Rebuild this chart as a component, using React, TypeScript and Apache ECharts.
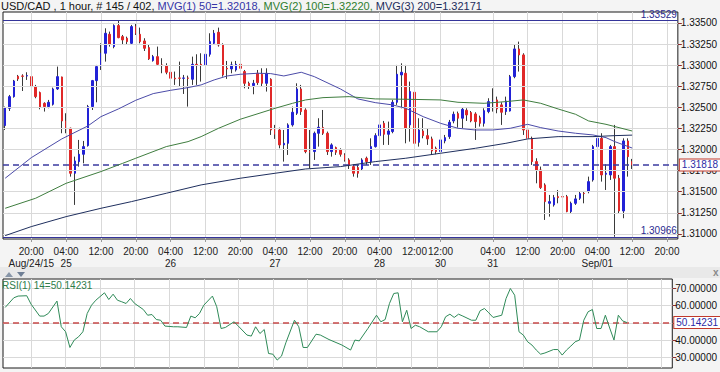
import React, { useEffect, useRef } from "react";
import * as echarts from "echarts";

// ---- Candles (USD/CAD, 1 hour) ----
const opens = [
  1.32284, 1.32489, 1.32627, 1.32868, 1.32872, 1.32872, 1.32864, 1.32746, 1.32675, 1.32548,
  1.32509, 1.32536, 1.32718, 1.3286, 1.32339, 1.32252, 1.31719, 1.31857, 1.31944, 1.32047,
  1.32509, 1.32817, 1.32983, 1.33141, 1.33366, 1.3322, 1.33469, 1.33338, 1.33319, 1.33259,
  1.33457, 1.33366, 1.33287, 1.33208, 1.33054, 1.33101, 1.33003, 1.32991, 1.32916, 1.32845,
  1.32848, 1.32845, 1.32848, 1.32833, 1.3301, 1.3301, 1.33003, 1.33129, 1.33259, 1.3339,
  1.3324, 1.32963, 1.32955, 1.32943, 1.3301, 1.32924, 1.32785, 1.32758, 1.32904, 1.32892,
  1.32785, 1.32833, 1.32252, 1.32232, 1.32055, 1.32074, 1.32292, 1.3243, 1.32718, 1.32469,
  1.31976, 1.31976, 1.32193, 1.3226, 1.32193, 1.31976, 1.32023, 1.31995, 1.31936, 1.31877,
  1.31798, 1.31786, 1.3177, 1.31897, 1.31857, 1.32035, 1.32165, 1.32311, 1.32181, 1.32213,
  1.3256, 1.32884, 1.32904, 1.32292, 1.32679, 1.32086, 1.3222, 1.32165, 1.32126, 1.32015,
  1.31976, 1.32102, 1.32153, 1.32339, 1.32426, 1.32371, 1.32465, 1.32438, 1.32422, 1.32378,
  1.32311, 1.3245, 1.3256, 1.32588, 1.32529, 1.3245, 1.32457, 1.32864, 1.33192, 1.33121,
  1.32232, 1.32133, 1.31857, 1.31758, 1.31581, 1.31363, 1.31344, 1.31442, 1.31442, 1.31442,
  1.31265, 1.31363, 1.31423, 1.31482, 1.31502, 1.3164, 1.32035, 1.32133, 1.31707, 1.31699,
  1.32035, 1.3166, 1.31272, 1.32102, 1.31857,
];
const closes = [
  1.32497, 1.32627, 1.32813, 1.32837, 1.32868, 1.32876, 1.32746, 1.32627, 1.32505, 1.32509,
  1.3256, 1.32718, 1.32864, 1.32339, 1.32244, 1.31719, 1.31865, 1.31944, 1.32035, 1.32509,
  1.32817, 1.32983, 1.33141, 1.33378, 1.33247, 1.33469, 1.33326, 1.33299, 1.33279, 1.33457,
  1.33378, 1.33279, 1.332, 1.33074, 1.33101, 1.3301, 1.32995, 1.32916, 1.32845, 1.32837,
  1.32845, 1.32848, 1.32845, 1.3301, 1.32995, 1.32995, 1.33129, 1.33279, 1.33378, 1.3324,
  1.32884, 1.32955, 1.33003, 1.3301, 1.32963, 1.32785, 1.32746, 1.32785, 1.32793, 1.32785,
  1.32904, 1.32232, 1.32181, 1.32055, 1.32074, 1.32292, 1.32442, 1.32718, 1.3245, 1.31976,
  1.31968, 1.32193, 1.32264, 1.32193, 1.31976, 1.32055, 1.31968, 1.31944, 1.31877, 1.3181,
  1.31719, 1.31719, 1.31877, 1.31857, 1.32035, 1.32165, 1.32292, 1.32181, 1.3222, 1.3256,
  1.32892, 1.32916, 1.32252, 1.32687, 1.32074, 1.32232, 1.32165, 1.32126, 1.31983, 1.31976,
  1.32114, 1.32141, 1.32323, 1.32418, 1.32371, 1.32477, 1.3241, 1.32339, 1.32331, 1.32311,
  1.32461, 1.32568, 1.32576, 1.32481, 1.32442, 1.32576, 1.32864, 1.33192, 1.33121, 1.32232,
  1.32133, 1.31857, 1.31758, 1.31549, 1.31383, 1.31383, 1.3143, 1.3143, 1.31438, 1.31265,
  1.31363, 1.31415, 1.31478, 1.31478, 1.3162, 1.32035, 1.32133, 1.31699, 1.31719, 1.32035,
  1.3166, 1.31272, 1.32102, 1.31916, 1.31818,
];
const lows = [
  1.32232, 1.32457, 1.32615, 1.32813, 1.32694, 1.32825, 1.32726, 1.32608, 1.32477, 1.3245,
  1.32489, 1.32521, 1.32706, 1.32193, 1.32193, 1.31679, 1.31344, 1.31798, 1.31837, 1.32035,
  1.32469, 1.3256, 1.32943, 1.33042, 1.3322, 1.332, 1.33319, 1.3324, 1.3324, 1.3324,
  1.33358, 1.33259, 1.33168, 1.33062, 1.33042, 1.33003, 1.32904, 1.32892, 1.32726, 1.32766,
  1.32746, 1.32659, 1.32509, 1.32766, 1.32766, 1.32805, 1.32963, 1.33101, 1.3324, 1.3322,
  1.32864, 1.32837, 1.32904, 1.32924, 1.32904, 1.32726, 1.32718, 1.32655, 1.32766, 1.32746,
  1.32687, 1.32173, 1.32126, 1.32015, 1.31857, 1.31936, 1.32272, 1.3241, 1.3241, 1.31956,
  1.31778, 1.31877, 1.32035, 1.32173, 1.31936, 1.31916, 1.31936, 1.31916, 1.31857, 1.3177,
  1.31679, 1.31667, 1.31746, 1.31818, 1.31818, 1.32023, 1.32133, 1.32055, 1.32055, 1.32193,
  1.32529, 1.32489, 1.32074, 1.32094, 1.32055, 1.32035, 1.32133, 1.32055, 1.31936, 1.31944,
  1.31956, 1.32074, 1.32126, 1.32311, 1.3226, 1.32252, 1.32339, 1.32323, 1.32114, 1.32272,
  1.32272, 1.3243, 1.3245, 1.3243, 1.32292, 1.3241, 1.3245, 1.32845, 1.32924, 1.32173,
  1.31956, 1.31818, 1.316, 1.31533, 1.31166, 1.31205, 1.31324, 1.31363, 1.31383, 1.31257,
  1.31245, 1.31344, 1.31403, 1.31363, 1.31482, 1.3162, 1.32015, 1.3162, 1.31521, 1.3164,
  1.30966, 1.31245, 1.31186, 1.31679, 1.3177,
];
const highs = [
  1.32509, 1.32647, 1.32825, 1.32884, 1.32892, 1.32916, 1.32916, 1.32766, 1.32687, 1.3256,
  1.32588, 1.32734, 1.32983, 1.32864, 1.3243, 1.3226, 1.31916, 1.32114, 1.32102, 1.32529,
  1.32825, 1.33003, 1.33259, 1.33437, 1.33398, 1.33484, 1.33529, 1.33358, 1.33338, 1.33477,
  1.33496, 1.33445, 1.33319, 1.3324, 1.33121, 1.3322, 1.33082, 1.33022, 1.32963, 1.32924,
  1.33042, 1.32884, 1.32876, 1.33101, 1.33129, 1.33141, 1.33161, 1.33378, 1.33417, 1.33445,
  1.33259, 1.3305, 1.33042, 1.3305, 1.33042, 1.32943, 1.32805, 1.32825, 1.32943, 1.32963,
  1.32963, 1.32845, 1.32292, 1.3226, 1.32232, 1.32311, 1.32509, 1.32785, 1.32766, 1.32489,
  1.32232, 1.32213, 1.32371, 1.32469, 1.32213, 1.32074, 1.32035, 1.32015, 1.31956, 1.31897,
  1.31818, 1.31818, 1.31897, 1.31916, 1.32133, 1.32193, 1.32371, 1.32339, 1.32331, 1.32588,
  1.33003, 1.33022, 1.33003, 1.32805, 1.32746, 1.32371, 1.32371, 1.32252, 1.32153, 1.32035,
  1.32126, 1.32173, 1.32351, 1.3245, 1.3245, 1.32497, 1.32489, 1.32457, 1.32442, 1.32402,
  1.32489, 1.32608, 1.32726, 1.32627, 1.3256, 1.32627, 1.32884, 1.3324, 1.33279, 1.33141,
  1.32292, 1.32153, 1.31897, 1.31798, 1.316, 1.31462, 1.31462, 1.31521, 1.31533, 1.31462,
  1.31383, 1.31462, 1.31502, 1.31509, 1.31679, 1.32055, 1.32331, 1.32193, 1.31825, 1.32055,
  1.32292, 1.31699, 1.32133, 1.32133, 1.31889,
];

// Moving averages: [candle index, value]
const ma50 = [
  [0, 1.3166], [6, 1.31904], [13, 1.32126], [19, 1.3228], [22, 1.3239], [26, 1.32481],
  [30, 1.32584], [34, 1.32663], [38, 1.32702], [42, 1.32734], [45, 1.32766], [48, 1.32825],
  [51, 1.32872], [54, 1.32892], [58, 1.32904], [61, 1.329], [64, 1.32872], [68, 1.32916],
  [71, 1.32864], [77, 1.32718], [81, 1.326], [85, 1.32556], [89, 1.32529], [92, 1.32489],
  [96, 1.3239], [100, 1.32311], [104, 1.32252], [108, 1.32232], [112, 1.32232], [116, 1.32252],
  [120, 1.32299], [123, 1.3226], [127, 1.3222], [131, 1.32193], [135, 1.32173], [138, 1.32141],
  [140, 1.32094], [144, 1.32018],
];
const ma100 = [
  [0, 1.31304], [7, 1.31423], [14, 1.316], [22, 1.31739], [27, 1.31837], [30, 1.31897],
  [37, 1.32035], [42, 1.32094], [45, 1.32153], [49, 1.32252], [54, 1.32359], [62, 1.32489],
  [66, 1.32548], [69, 1.32588], [73, 1.32615], [79, 1.32627], [85, 1.326], [92, 1.32596],
  [100, 1.32588], [104, 1.3256], [110, 1.32548], [115, 1.32568], [119, 1.32588], [123, 1.32548],
  [127, 1.32481], [131, 1.32418], [134, 1.32339], [138, 1.32299], [144, 1.3222],
];
const ma200 = [
  [0, 1.3098], [6, 1.31087], [14, 1.31205], [22, 1.31304], [29, 1.31383], [37, 1.31482],
  [45, 1.31581], [54, 1.3166], [62, 1.31719], [69, 1.3177], [77, 1.31798], [85, 1.31857],
  [92, 1.31897], [100, 1.31956], [108, 1.32015], [115, 1.32074], [120, 1.32126], [127, 1.32153],
  [135, 1.32153], [140, 1.32165], [144, 1.32171],
];

// RSI(14): [candle index, value]
const rsi = [
  [0, 58.9], [2, 64.5], [3, 65.5], [5, 65.7], [6, 60.8], [8, 53.9], [9, 53.9], [10, 55.4],
  [12, 62.6], [13, 47.7], [14, 44.8], [15, 35.7], [16, 40.0], [17, 41.9], [18, 44.8], [19, 55.4],
  [20, 60.2], [21, 63.1], [23, 67.4], [24, 63.5], [25, 66.6], [26, 63.1], [27, 62.2], [28, 61.2],
  [29, 64.1], [30, 61.2], [32, 57.7], [33, 54.4], [34, 54.8], [35, 51.9], [36, 51.5], [37, 48.1],
  [39, 47.7], [40, 47.7], [42, 47.3], [43, 53.9], [44, 52.9], [45, 55.4], [46, 60.2], [48, 65.5],
  [49, 59.3], [50, 46.7], [51, 47.3], [53, 50.6], [54, 48.1], [56, 42.9], [57, 42.3], [58, 47.7],
  [59, 43.8], [60, 46.1], [61, 32.2], [62, 31.8], [63, 28.4], [64, 30.7], [65, 38.4], [67, 51.5],
  [68, 47.7], [69, 35.7], [70, 35.7], [72, 43.4], [73, 42.9], [75, 40.3], [78, 37.1], [80, 34.2],
  [81, 40.0], [82, 39.5], [84, 46.7], [86, 54.4], [87, 50.6], [88, 51.9], [89, 61.2], [90, 67.0],
  [91, 67.4], [92, 50.6], [93, 57.3], [94, 46.7], [95, 48.6], [96, 47.7], [98, 44.8], [100, 44.8],
  [101, 47.7], [102, 53.5], [103, 55.0], [104, 53.1], [105, 55.0], [106, 53.9], [108, 51.5],
  [109, 51.5], [110, 57.0], [111, 58.3], [112, 55.8], [113, 53.1], [115, 54.4], [116, 64.1],
  [117, 69.9], [118, 66.0], [119, 44.8], [120, 42.9], [121, 39.0], [122, 37.1], [123, 34.2],
  [124, 31.8], [125, 32.5], [127, 34.5], [128, 34.5], [129, 31.3], [130, 34.2], [131, 36.5],
  [132, 39.0], [133, 40.0], [134, 51.5], [135, 56.4], [136, 57.7], [137, 46.7], [138, 46.7],
  [139, 54.4], [140, 47.0], [141, 40.0], [142, 54.4], [143, 51.1], [144, 50.14231],
];

// X axis ticks (slot index, time, date)
const SLOT_COUNT = 155;
const tickIdx = [6, 14, 22, 30, 38, 46, 54, 62, 70, 78, 86, 94, 100, 112, 120, 128, 136, 144, 152];
const tickTime = ["20:00", "04:00", "12:00", "20:00", "04:00", "12:00", "20:00", "04:00", "12:00", "20:00",
  "04:00", "12:00", "12:00", "04:00", "12:00", "20:00", "04:00", "12:00", "20:00"];
const tickDate = ["Aug/24/15", "25", "", "", "26", "", "", "27", "", "", "28", "", "30", "31", "", "", "Sep/01", "", ""];

// Y axis ticks
const priceTicks = [1.31, 1.3125, 1.315, 1.3175, 1.32, 1.3225, 1.325, 1.3275, 1.33, 1.3325, 1.335];
const rsiTicks = [30, 40, 50, 60, 70];

const lastPrice = 1.31818;
const periodHigh = 1.33529;
const periodLow = 1.30966;
const rsiLast = 50.14231;

const NARROW = "'Liberation Sans Narrow', 'Arial Narrow', 'Liberation Sans', Arial, sans-serif";
const SANS = "'Liberation Sans', Arial, sans-serif";
const GRID_COLOR = "#d9d9d9";

export default function App() {
  const ref = useRef<HTMLDivElement>(null);
  useEffect(() => {
    if (!ref.current) return;
    const chart = echarts.init(ref.current, undefined, { renderer: "svg" });
    const categories = Array.from({ length: SLOT_COUNT }, (_, i) => String(i));
    const tickSet = new Set(tickIdx);
    const isTick = (i: number) => tickSet.has(i);
    const wickData = opens.map((o, i) => [o, closes[i], lows[i], highs[i]]);
    const bodyData = opens.map((o, i) => [o, closes[i], Math.min(o, closes[i]), Math.max(o, closes[i])]);
    const fmt5 = (v: number) => v.toFixed(5);
    const last = (a: number[][]) => a[a.length - 1][1].toFixed(5);

    const gridLines = (xi: number, yi: number, yTicks: number[]) => ({
      type: "line",
      xAxisIndex: xi,
      yAxisIndex: yi,
      data: [],
      z: 1,
      silent: true,
      markLine: {
        silent: true,
        precision: 6,
        symbol: ["none", "none"],
        label: { show: false },
        lineStyle: { color: GRID_COLOR, type: "solid", width: 1 },
        data: [
          ...tickIdx.map((i) => ({ xAxis: i })),
          ...yTicks.map((v) => ({ yAxis: v })),
        ],
      },
    });

    const boxLabel = (text: string) => ({
      show: true,
      position: "end",
      formatter: text,
      color: "#2b2ba6",
      fontSize: 10,
      fontFamily: SANS,
      backgroundColor: "#ffffff",
      borderColor: "#c0392b",
      borderWidth: 1,
      padding: [1, 2, 0, 2],
      distance: 2,
    });

    const option: any = {
      animation: false,
      backgroundColor: "#f4f4f4",
      textStyle: { fontFamily: SANS },
      grid: [
        { left: 3, right: 42, top: 12, height: 227, show: true, backgroundColor: "#ffffff", borderColor: "#1a1a1a", borderWidth: 1, containLabel: false },
        { left: 3, right: 42, top: 279, height: 89, show: true, backgroundColor: "#ffffff", borderColor: "#1a1a1a", borderWidth: 1, containLabel: false },
      ],
      xAxis: [
        {
          type: "category",
          gridIndex: 0,
          data: categories,
          boundaryGap: true,
          axisLine: { show: false },
          axisTick: { show: true, alignWithLabel: true, interval: (i: number) => isTick(i), length: 3, lineStyle: { color: "#999" } },
          axisLabel: {
            interval: 0,
            hideOverlap: false,
            formatter: (_v: string, i: number) => {
              const k = tickIdx.indexOf(i);
              if (k < 0) return "";
              return tickDate[k] ? tickTime[k] + "\n" + tickDate[k] : tickTime[k];
            },
            fontSize: 10,
            fontFamily: NARROW,
            color: "#222",
            lineHeight: 12,
            margin: 6,
          },
          splitLine: { show: false },
        },
        {
          type: "category",
          gridIndex: 1,
          data: categories,
          boundaryGap: true,
          axisLine: { show: false },
          axisTick: { show: false },
          axisLabel: { show: false },
          splitLine: { show: false },
        },
      ],
      yAxis: [
        {
          type: "value",
          gridIndex: 0,
          position: "right",
          min: 1.3094,
          max: 1.3363,
          axisLine: { show: false },
          axisTick: { show: true, length: 4, customValues: priceTicks, lineStyle: { color: "#8a2c2c" } },
          axisLabel: { fontSize: 10, color: "#111", margin: 3, customValues: priceTicks, formatter: fmt5 },
          splitLine: { show: false },
        },
        {
          type: "value",
          gridIndex: 1,
          position: "right",
          min: 23.8,
          max: 75.4,
          axisLine: { show: false },
          axisTick: { show: true, length: 4, customValues: rsiTicks, lineStyle: { color: "#8a2c2c" } },
          axisLabel: {
            fontSize: 10, color: "#111", margin: 3, customValues: rsiTicks,
            formatter: (v: number) => (Math.abs(v - 50) < 0.01 ? "" : fmt5(v)),
          },
          splitLine: { show: false },
        },
      ],
      series: [
        gridLines(0, 0, priceTicks),
        gridLines(1, 1, rsiTicks),
        {
          name: "wicks",
          type: "candlestick",
          xAxisIndex: 0,
          yAxisIndex: 0,
          data: wickData,
          barWidth: 1,
          z: 3,
          itemStyle: { color: "#3a3a3a", color0: "#3a3a3a", borderColor: "#3a3a3a", borderColor0: "#3a3a3a", borderColorDoji: "#3a3a3a", borderWidth: 1 },
        },
        {
          name: "bodies",
          type: "candlestick",
          xAxisIndex: 0,
          yAxisIndex: 0,
          data: bodyData,
          barWidth: 2,
          z: 4,
          itemStyle: { color: "#2222d6", color0: "#e02828", borderColor: "#2222d6", borderColor0: "#e02828", borderColorDoji: "#444", borderWidth: 1 },
        },
        {
          name: "levels",
          type: "line",
          xAxisIndex: 0,
          yAxisIndex: 0,
          data: [],
          z: 6,
          markLine: {
            silent: true,
            precision: 6,
            symbol: ["none", "none"],
            data: [
              {
                yAxis: lastPrice,
                lineStyle: { color: "#3b3ba0", type: [6, 4], width: 1.5 },
                label: boxLabel(fmt5(lastPrice)),
              },
              {
                yAxis: periodHigh,
                lineStyle: { color: "#34349a", type: "solid", width: 1.2 },
                label: { show: true, position: "insideEndTop", formatter: fmt5(periodHigh), color: "#2a2a90", fontSize: 10, distance: 1 },
              },
              {
                yAxis: periodLow,
                lineStyle: { color: "#34349a", type: "solid", width: 1.2 },
                label: { show: true, position: "insideEndTop", formatter: fmt5(periodLow), color: "#2a2a90", fontSize: 10, distance: 1 },
              },
            ],
          },
        },
        {
          name: "MVG(1) 50",
          type: "line",
          xAxisIndex: 0,
          yAxisIndex: 0,
          data: ma50,
          showSymbol: false,
          z: 5,
          lineStyle: { color: "#4b4ba8", width: 1 },
        },
        {
          name: "MVG(2) 100",
          type: "line",
          xAxisIndex: 0,
          yAxisIndex: 0,
          data: ma100,
          showSymbol: false,
          z: 5,
          lineStyle: { color: "#3f7d3f", width: 1 },
        },
        {
          name: "MVG(3) 200",
          type: "line",
          xAxisIndex: 0,
          yAxisIndex: 0,
          data: ma200,
          showSymbol: false,
          z: 5,
          lineStyle: { color: "#1f2f5e", width: 1 },
        },
        {
          name: "RSI",
          type: "line",
          xAxisIndex: 1,
          yAxisIndex: 1,
          data: rsi,
          showSymbol: false,
          z: 5,
          lineStyle: { color: "#2f8a58", width: 1 },
          markLine: {
            silent: true,
            precision: 6,
            symbol: ["none", "none"],
            data: [
              {
                yAxis: rsiLast,
                lineStyle: { color: "#c84a4a", type: [6, 4], width: 1.5 },
                label: boxLabel(fmt5(rsiLast)),
              },
            ],
          },
        },
      ],
      graphic: [
        {
          type: "text",
          left: 1,
          top: 0,
          z: 10,
          style: {
            text:
              "{a|USD/CAD , 1 hour, # " + opens.length + " / 402, }" +
              "{b|MVG(1) 50=" + last(ma50) + ", }" +
              "{c|MVG(2) 100=" + last(ma100) + ", }" +
              "{d|MVG(3) 200=" + last(ma200) + "}",
            rich: {
              a: { fill: "#111", fontSize: 11, fontFamily: NARROW },
              b: { fill: "#3434a8", fontSize: 11, fontFamily: NARROW },
              c: { fill: "#2f7d2f", fontSize: 11, fontFamily: NARROW },
              d: { fill: "#1c2c5c", fontSize: 11, fontFamily: NARROW },
            },
          },
        },
        { type: "rect", left: 0, top: 267, z: 0, shape: { width: 720, height: 11 }, style: { fill: "#e9e9e9" } },
        { type: "polygon", z: 10, shape: { points: [[5, 277], [9, 272], [13, 277]] }, style: { fill: "#8896a8" } },
        { type: "polygon", z: 10, shape: { points: [[17, 272], [25, 272], [21, 277]] }, style: { fill: "#6f7f95" } },
        { type: "text", left: 713, top: 267, z: 10, style: { text: "x", fill: "#8a8a8a", font: "bold 10px " + SANS } },
        {
          type: "text",
          left: 2,
          top: 280,
          z: 10,
          style: { text: "RSI(1) 14=" + fmt5(rsiLast), fill: "#2e7d4a", font: "10px " + NARROW },
        },
      ],
    };
    chart.setOption(option);
    return () => chart.dispose();
  }, []);
  return (
    <div
      ref={ref}
      style={{ position: "fixed", left: 0, top: 0, width: 720, height: 372 }}
    />
  );
}
